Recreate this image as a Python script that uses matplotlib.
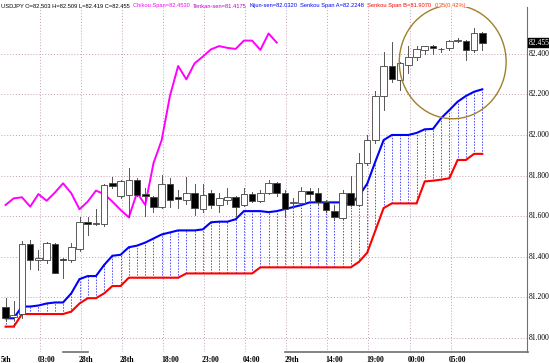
import matplotlib
matplotlib.use("Agg")
import matplotlib.pyplot as plt
from matplotlib.patches import Rectangle, Ellipse
import numpy as np

# ---- data (one bar per entry) ----
opens = [81.155, 81.105, 81.118, 81.463, 81.385, 81.382, 81.463, 81.390, 81.382, 81.437,
         81.573, 81.562, 81.562, 81.763, 81.700, 81.704, 81.778, 81.708, 81.696, 81.643,
         81.759, 81.696, 81.680, 81.713, 81.633, 81.713, 81.655, 81.680, 81.693, 81.655,
         81.709, 81.676, 81.716, 81.762, 81.713, 81.664, 81.667, 81.726, 81.713, 81.672,
         81.627, 81.590, 81.716, 81.655, 81.861, 81.975, 82.192, 82.340, 82.271, 82.345,
         82.386, 82.419, 82.438, 82.426, 82.427, 82.465, 82.465, 82.419, 82.503]
highs = [81.198, 81.180, 81.480, 81.483, 81.433, 81.475, 81.470, 81.395, 81.470, 81.598,
         81.598, 81.634, 81.760, 81.793, 81.780, 81.836, 81.790, 81.740, 81.700, 81.803,
         81.790, 81.729, 81.795, 81.760, 81.760, 81.729, 81.715, 81.740, 81.700, 81.740,
         81.720, 81.730, 81.780, 81.770, 81.730, 81.690, 81.745, 81.740, 81.740, 81.680,
         81.650, 81.729, 81.800, 81.909, 82.000, 82.218, 82.410, 82.460, 82.360, 82.436,
         82.440, 82.440, 82.445, 82.430, 82.470, 82.480, 82.470, 82.527, 82.509]
lows = [81.085, 81.090, 81.100, 81.338, 81.335, 81.370, 81.320, 81.295, 81.375, 81.430,
        81.507, 81.555, 81.550, 81.740, 81.690, 81.598, 81.700, 81.600, 81.620, 81.640,
        81.647, 81.640, 81.660, 81.606, 81.620, 81.640, 81.620, 81.660, 81.600, 81.650,
        81.670, 81.670, 81.710, 81.700, 81.598, 81.640, 81.660, 81.680, 81.660, 81.620,
        81.580, 81.585, 81.650, 81.650, 81.850, 81.960, 82.123, 82.260, 82.220, 82.305,
        82.370, 82.400, 82.400, 82.410, 82.420, 82.460, 82.369, 82.410, 82.419]
closes = [81.097, 81.115, 81.463, 81.384, 81.395, 81.467, 81.322, 81.383, 81.447, 81.573,
          81.562, 81.565, 81.754, 81.749, 81.773, 81.778, 81.704, 81.700, 81.643, 81.759,
          81.680, 81.683, 81.716, 81.639, 81.704, 81.655, 81.688, 81.693, 81.647, 81.709,
          81.676, 81.716, 81.762, 81.713, 81.634, 81.672, 81.726, 81.709, 81.672, 81.631,
          81.594, 81.716, 81.655, 81.861, 81.975, 82.192, 82.340, 82.274, 82.353, 82.386,
          82.422, 82.438, 82.429, 82.424, 82.465, 82.465, 82.419, 82.500, 82.455]

chikou = [81.655, 81.688, 81.693, 81.647, 81.709, 81.676, 81.716, 81.762, 81.713, 81.634,
          81.672, 81.726, 81.709, 81.672, 81.631, 81.594, 81.716, 81.655, 81.861, 81.975,
          82.192, 82.340, 82.274, 82.353, 82.386, 82.422, 82.438, 82.429, 82.424, 82.465,
          82.465, 82.419, 82.500, 82.455]

span_a = [81.097, 81.097, 81.155, 81.155, 81.160, 81.170, 81.175, 81.175, 81.220, 81.290,
          81.305, 81.305, 81.360, 81.405, 81.410, 81.447, 81.455, 81.470, 81.490, 81.510,
          81.520, 81.530, 81.530, 81.530, 81.535, 81.570, 81.573, 81.573, 81.585, 81.625,
          81.625, 81.625, 81.620, 81.625, 81.635, 81.645, 81.655, 81.668, 81.668, 81.668,
          81.668, 81.668, 81.660, 81.700, 81.760, 81.870, 81.975, 82.000, 82.000, 82.000,
          82.010, 82.028, 82.030, 82.083, 82.123, 82.164, 82.192, 82.213, 82.225]
span_b = [81.056, 81.056, 81.118, 81.118, 81.118, 81.118, 81.118, 81.118, 81.130, 81.170,
          81.196, 81.196, 81.220, 81.256, 81.256, 81.297, 81.297, 81.297, 81.297, 81.297,
          81.297, 81.297, 81.318, 81.318, 81.318, 81.318, 81.318, 81.318, 81.318, 81.318,
          81.318, 81.348, 81.348, 81.348, 81.348, 81.348, 81.348, 81.348, 81.348, 81.348,
          81.348, 81.348, 81.348, 81.375, 81.420, 81.530, 81.640, 81.663, 81.663, 81.663,
          81.663, 81.771, 81.775, 81.780, 81.787, 81.877, 81.877, 81.907, 81.907]

time_labels = ["03:00", "28th", "28th", "18:00", "23:00", "04:00", "29th",
               "14:00", "19:00", "00:00", "05:00"]
time_label_bars = [4, 9, 14, 19, 24, 29, 34, 39, 44, 49, 54]
price_ticks = [81.0, 81.2, 81.4, 81.6, 81.8, 82.0, 82.2, 82.4]

header_texts = ["USDJPY O=82.503 H=82.509 L=82.419 C=82.455", "Chikou Span=82.4530",
                "Tenkan-sen=81.4175", "Kijun-sen=82.0320", "Senkou Span A=82.2248",
                "Senkou Span B=81.9070", "0.35(0.42%)"]
header_colors = ["black", "#ff00ff", "#c000c0", "#0000ff", "#0000ff", "#ff0000", "#ff4000"]

W, H = 549, 363
fig = plt.figure(figsize=(W / 100, H / 100), dpi=100)
fig.patch.set_facecolor("white")
ax = fig.add_axes([1 / W, 11 / H, 526 / W, 345 / H])
ax.set_xlim(-0.55, 63.44)
ax.set_ylim(80.931, 82.6305)

grid_col = "#c0a0b8"
for p in price_ticks:
    ax.axhline(p, color=grid_col, lw=0.7, ls=(0, (1, 2)), zorder=0)
for b in time_label_bars:
    ax.axvline(b + 0.15, color=grid_col, lw=0.7, ls=(0, (1, 2)), zorder=0)

n = len(closes)
x = np.arange(n)

# cloud: dotted verticals between span A and span B
for i in range(n):
    ax.plot([i, i], [span_b[i], span_a[i]], color="#4a4aff", lw=0.7,
            ls=(0, (1.5, 1.5)), zorder=1)

ax.plot(x, span_a, color="#0000ff", lw=1.5, zorder=3, solid_joinstyle="miter")
ax.plot(x, span_b, color="#ff0000", lw=1.5, zorder=3, solid_joinstyle="miter")
ax.plot(np.arange(len(chikou)), chikou, color="#ff00ff", lw=1.4, zorder=3)

# candles
bw = 0.8
for i in range(n):
    o, h, l, c = opens[i], highs[i], lows[i], closes[i]
    ax.plot([i, i], [l, h], color="#555555", lw=0.7, zorder=4)
    lo, hi = min(o, c), max(o, c)
    face = "black" if c < o else "white"
    ax.add_patch(Rectangle((i - bw / 2, lo), bw, max(hi - lo, 0.002),
                           facecolor=face, edgecolor="#404040", lw=0.6, zorder=5))

# highlight circle
ax.add_patch(Ellipse((54.4, 82.36), 13.0, 0.56, fill=False,
                     edgecolor="#a08028", lw=1.0, zorder=6))

for s in ["left", "top", "bottom"]:
    ax.spines[s].set_visible(False)
ax.spines["right"].set_color("#707070")
ax.spines["right"].set_linewidth(0.8)
ax.set_xticks([])
ax.set_yticks([])

# right price labels
for p in price_ticks:
    ax.text(1.004, p, f"{p:.3f}", transform=ax.get_yaxis_transform(),
            ha="left", va="center", fontsize=5.5, family="Liberation Serif")
ax.text(1.004, closes[-1], f"{closes[-1]:.3f}", transform=ax.get_yaxis_transform(),
        ha="left", va="center", fontsize=5.5, family="Liberation Serif", color="white",
        bbox=dict(boxstyle="square,pad=0.1", fc="black", ec="black"), zorder=10)

# time labels
ax.text(-0.55, -0.012, "5th", transform=ax.get_xaxis_transform(), ha="left",
        va="top", fontsize=5.5, family="Liberation Serif", fontweight="bold")
for b, lab in zip(time_label_bars, time_labels):
    ax.text(b - 0.1, -0.012, lab, transform=ax.get_xaxis_transform(), ha="left",
            va="top", fontsize=5.5, family="Liberation Serif", fontweight="bold")

# bottom separator bits
fig.add_artist(plt.Line2D([285 / W, 528 / W], [1 - 352 / H] * 2, color="#707070", lw=1.2))
fig.add_artist(plt.Line2D([63 / W, 88 / W], [1 - 352 / H] * 2, color="#707070", lw=1.2))

# header, laid out one piece after another
renderer = fig.canvas.get_renderer()
px = 1.0
for txt, col in zip(header_texts, header_colors):
    t = fig.text(px / W, 1 - 6 / H, txt, color=col, fontsize=4.15,
                 family="Liberation Sans", ha="left", va="center")
    px += t.get_window_extent(renderer).width + 3

fig.savefig("out.png", dpi=100)
